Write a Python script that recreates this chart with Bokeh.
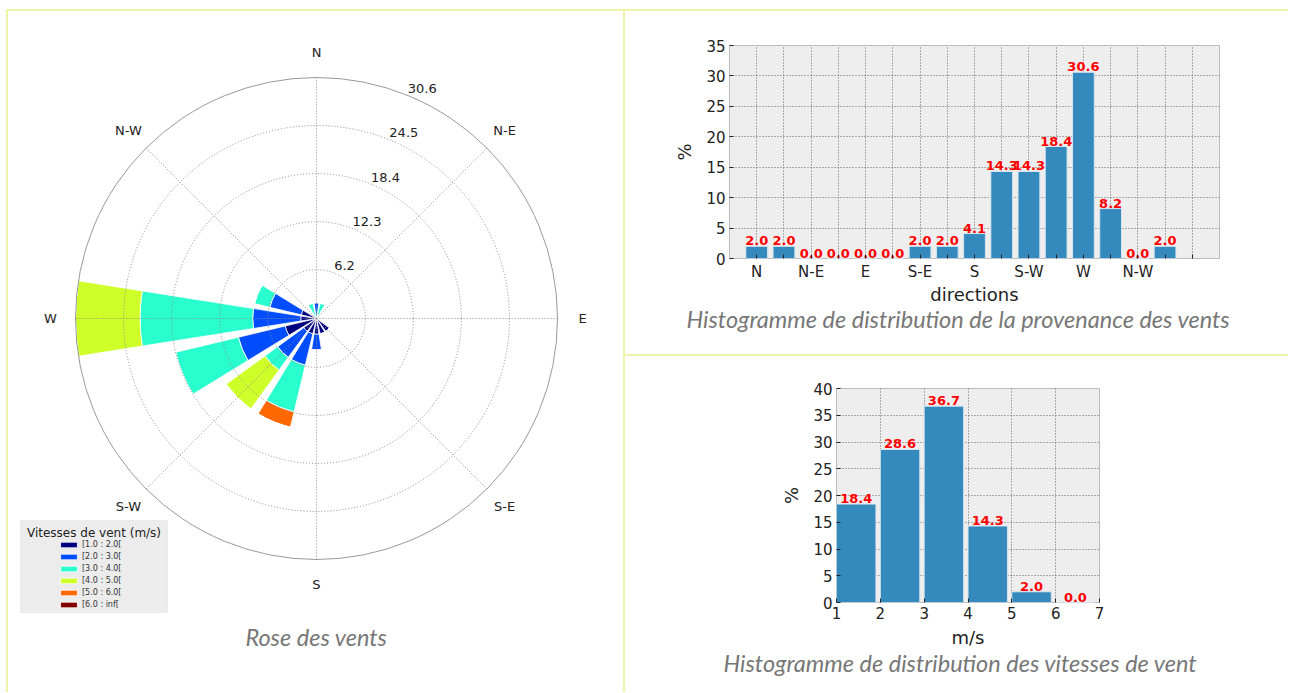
import math
from bokeh.plotting import figure
from bokeh.models import (Range1d, Legend, LegendItem, Label, BoxAnnotation,
                          FixedTicker, Div, Title)
from bokeh.layouts import row, column
from bokeh.embed import file_html
from bokeh.resources import INLINE
from bokeh.core.properties import value

# ---------------- data ----------------
directions = ["N", "NNE", "NE", "ENE", "E", "ESE", "SE", "SSE",
              "S", "SSW", "SW", "WSW", "W", "WNW", "NW", "NNW"]
direction_deg = [0, 22.5, 45, 67.5, 90, 112.5, 135, 157.5,
                 180, 202.5, 225, 247.5, 270, 292.5, 315, 337.5]

speed_bins = ["[1.0 : 2.0[", "[2.0 : 3.0[", "[3.0 : 4.0[",
              "[4.0 : 5.0[", "[5.0 : 6.0[", "[6.0 : inf["]
speed_colors = ["#00007f", "#004cff", "#29ffce", "#ceff29", "#ff6800", "#7f0000"]

# percentage of observations per direction, for each speed bin
rose_1_2 = [0, 0, 0, 0, 0, 0, 2.0, 2.0, 2.0, 2.0, 2.0, 4.1, 2.0, 2.0, 0, 0]
rose_2_3 = [2.0, 0, 0, 0, 0, 0, 0, 0, 2.0, 4.1, 4.1, 6.1, 6.1, 4.1, 0, 0]
rose_3_4 = [0, 2.0, 0, 0, 0, 0, 0, 0, 0, 6.1, 2.0, 8.2, 14.3, 2.0, 0, 2.0]
rose_4_5 = [0, 0, 0, 0, 0, 0, 0, 0, 0, 0, 6.1, 0, 8.2, 0, 0, 0]
rose_5_6 = [0, 0, 0, 0, 0, 0, 0, 0, 0, 2.0, 0, 0, 0, 0, 0, 0]
rose_6_inf = [0] * 16
rose_series = [rose_1_2, rose_2_3, rose_3_4, rose_4_5, rose_5_6, rose_6_inf]

rose_rings = [6.2, 12.3, 18.4, 24.5, 30.6]
compass_labels = ["N", "N-E", "E", "S-E", "S", "S-W", "W", "N-W"]
compass_deg = [0, 45, 90, 135, 180, 225, 270, 315]

dir_hist_values = [2.0, 2.0, 0.0, 0.0, 0.0, 0.0, 2.0, 2.0,
                   4.1, 14.3, 14.3, 18.4, 30.6, 8.2, 0.0, 2.0]
dir_tick_labels = {0: "N", 2: "N-E", 4: "E", 6: "S-E", 8: "S",
                   10: "S-W", 12: "W", 14: "N-W"}
dir_x_ticks = list(range(0, 17))
dir_y_ticks = [0, 5, 10, 15, 20, 25, 30, 35]

speed_edges = [1, 2, 3, 4, 5, 6, 7]
speed_hist_values = [18.4, 28.6, 36.7, 14.3, 2.0, 0.0]
speed_y_ticks = [0, 5, 10, 15, 20, 25, 30, 35, 40]

# ---------------- styles ----------------
BORDER = "#eef4a8"
BAR_BLUE = "#348ABD"
PLOT_BG = "#eeeeee"
CAP_SIZE = "23.5px"

# ---------------- wind rose ----------------
W_L, H_L = 615, 681
CX, CY = 308, 307          # centre of the rose in canvas px
R_PX = 241                 # radius in px of the outer ring
K = rose_rings[-1] / R_PX  # data units per px


def px(fx, fy):
    return (fx - CX) * K, (CY - fy) * K


rose = figure(width=W_L, height=H_L, output_backend="svg", toolbar_location=None,
              x_range=Range1d(-CX * K, (W_L - CX) * K),
              y_range=Range1d(-(H_L - CY) * K, CY * K),
              x_axis_type=None, y_axis_type=None,
              min_border=0, min_border_left=0, min_border_right=0,
              min_border_top=0, min_border_bottom=0)
rose.grid.visible = False
rose.outline_line_color = None
rose.background_fill_color = "white"

opening = 0.8 * 22.5
cum = [0.0] * 16
bin_renderers = []
for vals, col in zip(rose_series, speed_colors):
    xs, ys, inner, outer, sa, ea = [], [], [], [], [], []
    keep_all = not any(v > 0 for v in vals)
    for i, v in enumerate(vals):
        if v > 0 or keep_all:
            th = 90 - direction_deg[i]
            xs.append(0)
            ys.append(0)
            inner.append(cum[i])
            outer.append(cum[i] + v)
            sa.append(math.radians(th - opening / 2))
            ea.append(math.radians(th + opening / 2))
        cum[i] += v
    r = rose.annular_wedge(x=xs, y=ys, inner_radius=inner, outer_radius=outer,
                           start_angle=sa, end_angle=ea,
                           fill_color=col, line_color="white", line_width=0.8)
    bin_renderers.append(r)

# grid rings and spokes (drawn above bars)
rose.circle(x=[0] * 4, y=[0] * 4, radius=rose_rings[:-1], fill_color=None,
            line_color="#8c8c8c", line_dash="1 2", line_width=1)
rose.circle(x=[0], y=[0], radius=[rose_rings[-1]], fill_color=None,
            line_color="#999999", line_width=1)
sx1 = [rose_rings[-1] * math.cos(math.radians(90 - d)) for d in compass_deg]
sy1 = [rose_rings[-1] * math.sin(math.radians(90 - d)) for d in compass_deg]
rose.segment(x0=[0] * 8, y0=[0] * 8, x1=sx1, y1=sy1,
             line_color="#8c8c8c", line_dash="1 2", line_width=1)

# ring labels at 22.5 deg
la = math.radians(90 - 22.5)
rose.text(x=[r * math.cos(la) for r in rose_rings],
          y=[r * math.sin(la) for r in rose_rings],
          text=[f"{r:.1f}" for r in rose_rings],
          text_font=value("DejaVu Sans"), text_font_size="13px",
          text_color="#222222", text_align="left", text_baseline="bottom",
          x_offset=-1, y_offset=-3)

# compass labels
RL = rose_rings[-1] * 266 / 241
rose.text(x=[RL * math.cos(math.radians(90 - d)) for d in compass_deg],
          y=[RL * math.sin(math.radians(90 - d)) for d in compass_deg],
          text=compass_labels, text_font=value("DejaVu Sans"),
          text_font_size="13px", text_color="#222222",
          text_align="center", text_baseline="middle")

# legend box + title
bl, bt = px(12, 509)
br, bb = px(159, 601)
rose.add_layout(BoxAnnotation(left=bl, right=br, top=bt, bottom=bb,
                              fill_color="#ececec", fill_alpha=1.0,
                              line_color="#cfcfcf", line_width=1))
tx, ty = px(85.5, 521)
rose.add_layout(Label(x=tx, y=ty, text="Vitesses de vent (m/s)",
                      text_font="DejaVu Sans", text_font_size="12px",
                      text_color="#222222", text_align="center",
                      text_baseline="middle"))
legend = Legend(items=[LegendItem(label=lbl, renderers=[r])
                       for lbl, r in zip(speed_bins, bin_renderers)],
                location=(50, 83), padding=0, margin=0, spacing=3,
                glyph_width=21, glyph_height=7, label_height=8,
                label_standoff=3, label_text_font="DejaVu Sans",
                label_text_font_size="8px", label_text_color="#333333",
                background_fill_alpha=0, border_line_alpha=0)
rose.add_layout(legend)

cx_, cy_ = px(308, 625)
rose.add_layout(Label(x=cx_, y=cy_, text="Rose des vents", text_font="Lato",
                      text_font_style="italic", text_font_size=CAP_SIZE,
                      text_color="#777777", text_align="center",
                      text_baseline="middle"))


# ---------------- histogram helpers ----------------
def style_hist(p, xticks, yticks):
    p.background_fill_color = PLOT_BG
    p.border_fill_color = "white"
    p.outline_line_color = "#bcbcbc"
    p.outline_line_width = 1
    xax, yax = p.below[0], p.left[0]
    xax.ticker = FixedTicker(ticks=xticks)
    yax.ticker = FixedTicker(ticks=yticks)
    for ax in (xax, yax):
        ax.axis_line_color = None
        ax.major_tick_in = 4
        ax.major_tick_out = 0
        ax.minor_tick_in = 0
        ax.minor_tick_out = 0
        ax.major_tick_line_color = "#222222"
        ax.major_label_text_font = "DejaVu Sans"
        ax.major_label_text_font_size = "15px"
        ax.major_label_text_color = "#222222"
        ax.major_label_standoff = 4
        ax.axis_label_text_font = "DejaVu Sans"
        ax.axis_label_text_font_size = "18px"
        ax.axis_label_text_font_style = "normal"
        ax.axis_label_text_color = "#222222"
    p.grid.grid_line_color = "#444444"
    p.grid.grid_line_alpha = 0.8
    p.grid.grid_line_dash = "1 2"
    p.grid.grid_line_width = 1
    return xax, yax


def caption(text, offset, standoff):
    return Title(text=text, align="left", offset=offset, standoff=standoff,
                 text_font="Lato", text_font_style="italic",
                 text_font_size=CAP_SIZE, text_color="#777777")


# ---------------- direction histogram ----------------
W_R = 663
h1 = figure(width=W_R, height=343, output_backend="svg", toolbar_location=None,
            x_range=Range1d(-1, 17), y_range=Range1d(0, 35),
            min_border_left=104, min_border_right=69,
            min_border_top=34, min_border_bottom=96)
x1ax, y1ax = style_hist(h1, dir_x_ticks, dir_y_ticks)
idx = list(range(len(dir_hist_values)))
h1.vbar(x=idx, top=dir_hist_values, width=0.8, fill_color=BAR_BLUE,
        line_color="#d6e4ef", line_width=1)
h1.text(x=idx, y=dir_hist_values, text=[f"{v:.1f}" for v in dir_hist_values],
        text_font=value("DejaVu Sans"), text_font_style="bold",
        text_font_size="13px", text_color="red", text_align="center",
        text_baseline="bottom", y_offset=-1)
x1ax.major_label_overrides = {i: dir_tick_labels.get(i, "") for i in dir_x_ticks}
x1ax.axis_label = "directions"
y1ax.axis_label = "%"
x1ax.axis_label_standoff = 0
y1ax.axis_label_standoff = 8
h1.add_layout(caption("Histogramme de distribution de la provenance des vents", -43, -10),
              "below")

# ---------------- speed histogram ----------------
h2 = figure(width=W_R, height=336, output_backend="svg", toolbar_location=None,
            x_range=Range1d(1, 7), y_range=Range1d(0, 40),
            min_border_left=211, min_border_right=189,
            min_border_top=32, min_border_bottom=90)
x2ax, y2ax = style_hist(h2, speed_edges, speed_y_ticks)
lefts = speed_edges[:-1]
h2.quad(left=lefts, right=[l + 0.9 for l in lefts], bottom=0, top=speed_hist_values,
        fill_color=BAR_BLUE, line_color="#d6e4ef", line_width=1)
h2.text(x=[l + 0.45 for l in lefts], y=speed_hist_values,
        text=[f"{v:.1f}" for v in speed_hist_values],
        text_font=value("DejaVu Sans"), text_font_style="bold",
        text_font_size="13px", text_color="red", text_align="center",
        text_baseline="bottom", y_offset=-1)
x2ax.axis_label = "m/s"
y2ax.axis_label = "%"
x2ax.axis_label_standoff = 5
y2ax.axis_label_standoff = 8
h2.add_layout(caption("Histogramme de distribution des vitesses de vent", -113, -7),
              "below")


# ---------------- layout with panel borders ----------------
def bar_div(w, h, color=BORDER):
    return Div(text="", width=w, height=h, margin=(0, 0, 0, 0),
               styles={"background-color": color})


top_space = bar_div(10, 9, "white")
top_line = row(bar_div(6, 2, "white"), bar_div(1282, 2), spacing=0)
left_space = bar_div(6, H_L, "white")
left_line = bar_div(2, H_L)
mid_line = bar_div(2, H_L)
h_line = bar_div(W_R, 2)

right_col = column(row(h1, spacing=0), h_line, row(h2, spacing=0), spacing=0)
layout = column(top_space, top_line,
                row(left_space, left_line, rose, mid_line, right_col, spacing=0),
                spacing=0)

open("out.html", "w").write(file_html(layout, INLINE))
